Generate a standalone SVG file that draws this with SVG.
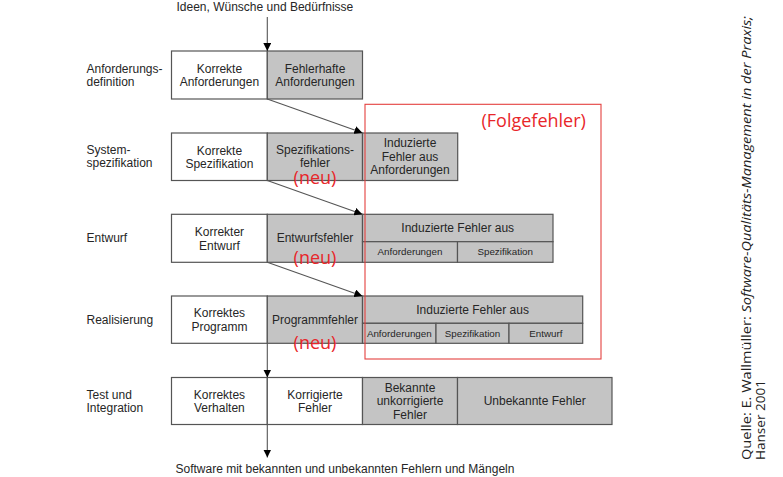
<svg xmlns="http://www.w3.org/2000/svg" width="783" height="477" viewBox="0 0 783 477">
<defs>
<style>
.w{fill:#ffffff;stroke:#555555;stroke-width:1.2}
.g{fill:#c4c4c4;stroke:#555555;stroke-width:1.2}
.t{font-family:"Liberation Sans",Arial,sans-serif;font-size:12px;fill:#262626;text-anchor:middle}
.l{font-family:"Liberation Sans",Arial,sans-serif;font-size:12px;fill:#262626}
.s{font-family:"Liberation Sans",Arial,sans-serif;font-size:9.8px;fill:#262626;text-anchor:middle}
.r{font-family:"Open Sans","Liberation Sans",sans-serif;font-size:18px;fill:#e8262a}
.c{stroke:#555555;stroke-width:1.1;fill:none}
.src{font-family:"Open Sans","Liberation Sans",sans-serif;font-size:13.5px;fill:#222222}
</style>
<marker id="ah" viewBox="0 0 10 10" refX="10" refY="5" markerWidth="8" markerHeight="8" markerUnits="userSpaceOnUse" orient="auto">
<path d="M0,0 L10,5 L0,10 Z" fill="#000000"/>
</marker>
</defs>
<rect width="783" height="477" fill="#ffffff"/>

<g id="input-label"><text class="l" x="176.5" y="11">Ideen, Wünsche und Bedürfnisse</text></g>

<g id="labels">
<text class="l" x="86.5" y="72.8">Anforderungs-</text>
<text class="l" x="86.5" y="86.3">definition</text>
<text class="l" x="86.5" y="153.5">System-</text>
<text class="l" x="86.5" y="167">spezifikation</text>
<text class="l" x="86.5" y="242.3">Entwurf</text>
<text class="l" x="86.5" y="324">Realisierung</text>
<text class="l" x="86.5" y="398.8">Test und</text>
<text class="l" x="86.5" y="412.3">Integration</text>
</g>

<g id="row1">
<rect class="w" x="171.5" y="51" width="95.8" height="48"/>
<rect class="g" x="267.3" y="51" width="95.2" height="48"/>
<text class="t" x="219.4" y="72.8">Korrekte</text>
<text class="t" x="219.4" y="86.3">Anforderungen</text>
<text class="t" x="315" y="72.8">Fehlerhafte</text>
<text class="t" x="315" y="86.3">Anforderungen</text>
</g>

<g id="row2">
<rect class="w" x="171.5" y="133" width="95.8" height="47.5"/>
<rect class="g" x="267.3" y="133" width="95.2" height="47.5"/>
<rect class="g" x="362.5" y="133" width="95.2" height="47.5"/>
<text class="t" x="219.4" y="154.5">Korrekte</text>
<text class="t" x="219.4" y="168">Spezifikation</text>
<text class="t" x="315" y="153.5">Spezifikations-</text>
<text class="t" x="315" y="166.8">fehler</text>
<text class="t" x="410" y="147.3">Induzierte</text>
<text class="t" x="410" y="160.6">Fehler aus</text>
<text class="t" x="410" y="173.9">Anforderungen</text>
</g>

<g id="row3">
<rect class="w" x="171.5" y="214.3" width="95.8" height="48"/>
<rect class="g" x="267.3" y="214.3" width="95.2" height="48"/>
<rect class="g" x="362.5" y="214.3" width="190.5" height="27.4"/>
<rect class="g" x="362.5" y="241.7" width="95" height="20.6"/>
<rect class="g" x="457.5" y="241.7" width="95.5" height="20.6"/>
<text class="t" x="219.4" y="236">Korrekter</text>
<text class="t" x="219.4" y="249.5">Entwurf</text>
<text class="t" x="315" y="242.3">Entwurfsfehler</text>
<text class="t" x="457.7" y="232">Induzierte Fehler aus</text>
<text class="s" x="410" y="255">Anforderungen</text>
<text class="s" x="505.2" y="255">Spezifikation</text>
</g>

<g id="row4">
<rect class="w" x="171.5" y="296" width="95.8" height="47.3"/>
<rect class="g" x="267.3" y="296" width="95.2" height="47.3"/>
<rect class="g" x="362.5" y="296" width="220.2" height="27.3"/>
<rect class="g" x="362.5" y="323.3" width="73.5" height="20"/>
<rect class="g" x="436" y="323.3" width="73" height="20"/>
<rect class="g" x="509" y="323.3" width="73.7" height="20"/>
<text class="t" x="219.4" y="317.4">Korrektes</text>
<text class="t" x="219.4" y="330.9">Programm</text>
<text class="t" x="315" y="324">Programmfehler</text>
<text class="t" x="472.6" y="314">Induzierte Fehler aus</text>
<text class="s" x="399.3" y="336.8">Anforderungen</text>
<text class="s" x="472.5" y="336.8">Spezifikation</text>
<text class="s" x="545.9" y="336.8">Entwurf</text>
</g>

<g id="row5">
<rect class="w" x="171.5" y="377.5" width="95.8" height="47"/>
<rect class="w" x="267.3" y="377.5" width="95.2" height="47"/>
<rect class="g" x="362.5" y="377.5" width="95" height="47"/>
<rect class="g" x="457.5" y="377.5" width="154.5" height="47"/>
<text class="t" x="219.4" y="398.8">Korrektes</text>
<text class="t" x="219.4" y="412.3">Verhalten</text>
<text class="t" x="315" y="398.8">Korrigierte</text>
<text class="t" x="315" y="412.3">Fehler</text>
<text class="t" x="410" y="391.8">Bekannte</text>
<text class="t" x="410" y="405.2">unkorrigierte</text>
<text class="t" x="410" y="418.6">Fehler</text>
<text class="t" x="534.7" y="405.2">Unbekannte Fehler</text>
</g>

<g id="output-label"><text class="l" x="175.5" y="472.5">Software mit bekannten und unbekannten Fehlern und Mängeln</text></g>

<g id="connectors">
<line class="c" x1="267.3" y1="17" x2="267.3" y2="51" marker-end="url(#ah)"/>
<line class="c" x1="267.3" y1="99" x2="362.3" y2="132.8" marker-end="url(#ah)"/>
<line class="c" x1="267.3" y1="180.5" x2="362.3" y2="214.3" marker-end="url(#ah)"/>
<line class="c" x1="267.3" y1="262.3" x2="362.3" y2="296" marker-end="url(#ah)"/>
<line class="c" x1="267.3" y1="343.3" x2="267.3" y2="377.5" marker-end="url(#ah)"/>
<line class="c" x1="267.3" y1="424.5" x2="267.3" y2="457.5" marker-end="url(#ah)"/>
</g>

<g id="folgefehler">
<rect x="365" y="104.3" width="236" height="254.7" fill="none" stroke="#e4403f" stroke-width="1.1"/>
<text class="r" x="481.5" y="126.7">(Folgefehler)</text>
</g>

<g id="neu-labels">
<text class="r" x="315" y="184" text-anchor="middle">(neu)</text>
<text class="r" x="315" y="264" text-anchor="middle">(neu)</text>
<text class="r" x="315" y="349" text-anchor="middle">(neu)</text>
</g>

<g id="source">
<text class="src" transform="translate(751,460) rotate(-90)" textLength="444" lengthAdjust="spacingAndGlyphs">Quelle: E. Wallmüller: <tspan font-style="italic">Software-Qualitäts-Management in der Praxis;</tspan></text>
<text class="src" transform="translate(765,460) rotate(-90)" textLength="80" lengthAdjust="spacingAndGlyphs">Hanser 2001</text>
</g>
</svg>
